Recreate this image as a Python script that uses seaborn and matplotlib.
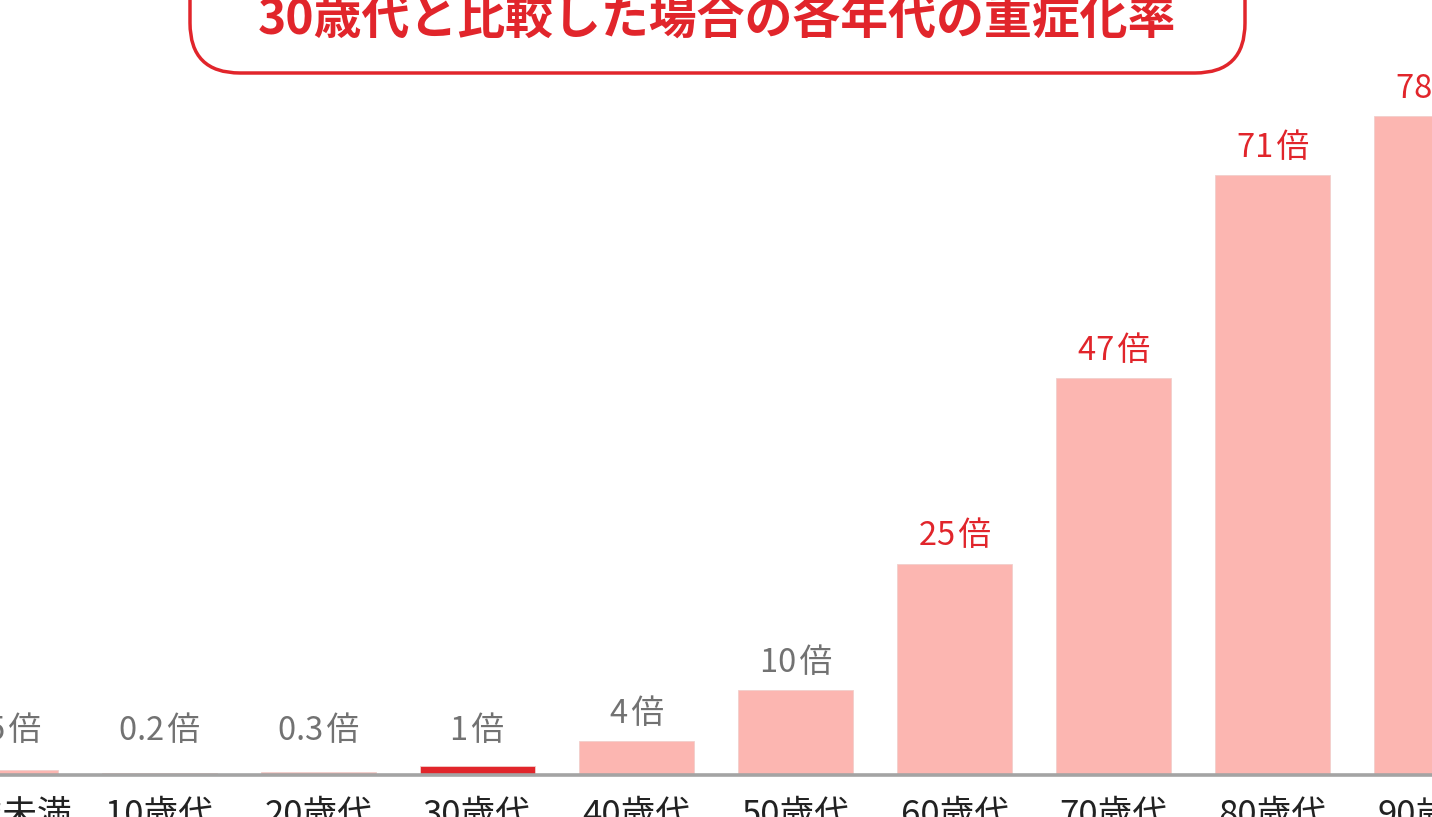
import matplotlib
matplotlib.use("Agg")
import matplotlib.pyplot as plt
from matplotlib.patches import FancyBboxPatch
import seaborn as sns
import pandas as pd

# ---- data ----
categories = ["10歳未満", "10歳代", "20歳代", "30歳代", "40歳代",
              "50歳代", "60歳代", "70歳代", "80歳代", "90歳代"]
values = [0.5, 0.2, 0.3, 1, 4, 10, 25, 47, 71, 78]
value_labels = ["0.5倍", "0.2倍", "0.3倍", "1倍", "4倍",
                "10倍", "25倍", "47倍", "71倍", "78倍"]
title = "30歳代と比較した場合の各年代の重症化率"
highlight = "30歳代"

# ---- style ----
sns.set_theme(style="white")
plt.rcParams['font.family'] = ['Noto Sans CJK JP', 'DejaVu Sans']

RED = "#E1252B"
PINK = "#FCB6B1"
GRAY_TXT = "#727272"
LABEL_FLOOR = 2.0  # small bars: keep labels clear of the axis line

W, H = 1432, 817
fig = plt.figure(figsize=(W / 100, H / 100), dpi=100)
fig.patch.set_facecolor("white")

base_px = 774.5
ax = fig.add_axes([0, (H - base_px) / H, 1, base_px / H])

df = pd.DataFrame({"cat": categories, "val": values})
palette = {c: (RED if c == highlight else PINK) for c in categories}
sns.barplot(data=df, x="cat", y="val", hue="cat", palette=palette,
            width=0.722, legend=False, ax=ax, saturation=1,
            edgecolor="#f2cfcc", linewidth=0.6)

ax.set_xlim(-0.0016, 9.001)
ax.set_ylim(0, base_px / 8.44)
ax.set_xlabel("")
ax.set_ylabel("")
ax.set_yticks([])
for s in ["top", "left", "right"]:
    ax.spines[s].set_visible(False)
ax.spines["bottom"].set_color("#A4A4A4")
ax.spines["bottom"].set_linewidth(2.6)
ax.spines["bottom"].set_zorder(5)
ax.tick_params(axis="x", length=0, pad=17, labelsize=25, labelcolor="#222222")

bars = sorted([p for p in ax.patches], key=lambda p: p.get_x())
for p, lab, v in zip(bars, value_labels, values):
    ax.annotate(lab.replace("倍", "\u200a倍"),
                (p.get_x() + p.get_width() / 2, max(p.get_height(), LABEL_FLOOR)),
                xytext=(0, 8), textcoords="offset points",
                ha="center", va="bottom", fontsize=23.5,
                color=(RED if v >= 25 else GRAY_TXT), annotation_clip=False)

# ---- title box overlay ----
ov = fig.add_axes([0, 0, 1, 1], zorder=10)
ov.set_xlim(0, W)
ov.set_ylim(H, 0)
ov.axis("off")
ov.patch.set_alpha(0)
box = FancyBboxPatch((190, -60), 1055, 133,
                     boxstyle="round,pad=0,rounding_size=50",
                     facecolor="white", edgecolor=RED, linewidth=2.5)
ov.add_patch(box)
ov.text(717, 19, title, ha="center", va="center", fontsize=34.5,
        fontweight="bold", color=RED)

fig.savefig("out.png", dpi=100, facecolor="white")
